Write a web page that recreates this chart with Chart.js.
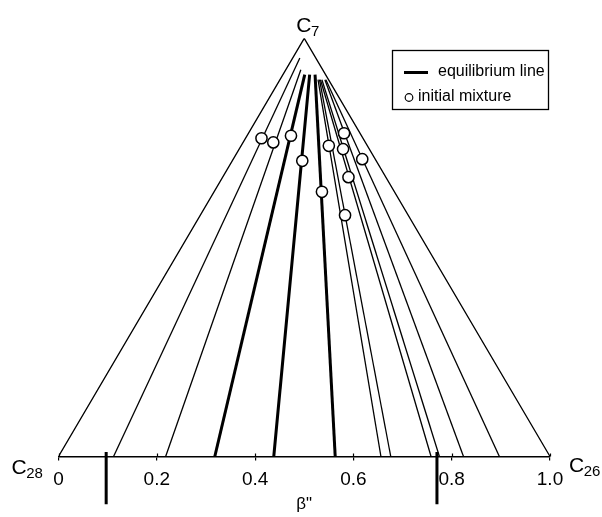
<!DOCTYPE html>
<html>
<head>
<meta charset="utf-8">
<script src="https://cdn.jsdelivr.net/npm/chart.js@4.4.1/dist/chart.umd.min.js"></script>
<style>
  body { margin: 0; background: #fff; }
  #wrap { width: 602px; height: 517px; }
</style>
</head>
<body>
<div id="wrap"><canvas id="chartTernary"></canvas></div>
<script>
// corners of the diagram (beta'', height)
const triangleX = [0, 0.5, 1]
const triangleY = [0, 1, 0]

// equilibrium lines (thick): beta'' at the base, and top end of each line
const equilibriumBase = [0.318, 0.438, 0.563]
const equilibriumTopX = [0.501, 0.511, 0.522]
const equilibriumTopY = [0.913, 0.913, 0.913]

// other tie lines (thin)
const tieBase = [0.112, 0.218, 0.656, 0.676, 0.758, 0.775, 0.824, 0.897]
const tieTopX = [0.491, 0.493, 0.528, 0.531, 0.533, 0.536, 0.542, 0.544]
const tieTopY = [0.953, 0.925, 0.901, 0.901, 0.901, 0.901, 0.901, 0.901]

// initial mixtures
const mixtureX = [0.413, 0.437, 0.473, 0.496, 0.536, 0.550, 0.583, 0.579, 0.590, 0.581, 0.618]
const mixtureY = [0.761, 0.751, 0.767, 0.707, 0.633, 0.743, 0.577, 0.735, 0.668, 0.773, 0.711]

// marks below the axis
const betaMarks = [0.097, 0.77]

const tickValues = [0, 0.2, 0.4, 0.6, 0.8, 1.0]

const FONT = "'Liberation Sans', Arial, Helvetica, sans-serif"

function segment(x0, y0, x1, y1) {
    return [{x: x0, y: y0}, {x: x1, y: y1}]
}

const datasets = []

datasets.push({
    label: 'initial mixture',
    data: mixtureX.map((x, i) => ({x, y: mixtureY[i]})),
    showLine: false,
    pointRadius: 5.6,
    pointBorderWidth: 1.5,
    pointBackgroundColor: '#fff',
    pointBorderColor: '#000',
    order: 0
})

equilibriumBase.forEach((b, i) => {
    datasets.push({
        label: 'equilibrium line',
        data: segment(b, 0, equilibriumTopX[i], equilibriumTopY[i]),
        showLine: true,
        borderColor: '#000',
        borderWidth: 3,
        pointRadius: 0,
        order: 1
    })
})

tieBase.forEach((b, i) => {
    datasets.push({
        label: 'tie',
        data: segment(b, 0, tieTopX[i], tieTopY[i]),
        showLine: true,
        borderColor: '#000',
        borderWidth: 1.3,
        pointRadius: 0,
        order: 1
    })
})

datasets.push({
    label: 'triangle',
    data: triangleX.map((x, i) => ({x, y: triangleY[i]})),
    showLine: true,
    borderColor: '#000',
    borderWidth: 1.3,
    pointRadius: 0,
    order: 1
})

betaMarks.forEach(b => {
    datasets.push({
        label: 'mark',
        data: segment(b, 0.011, b, -0.114),
        showLine: true,
        borderColor: '#000',
        borderWidth: 3,
        pointRadius: 0,
        clip: false,
        order: 1
    })
})

function drawSub(ctx, x, y, main, sub) {
    ctx.font = '21px ' + FONT
    ctx.fillText(main, x, y)
    const w = ctx.measureText(main).width
    ctx.font = '15px ' + FONT
    ctx.fillText(sub, x + w - 0.5, y + 4)
}

const labelsPlugin = {
    id: 'labels',
    afterDraw(chart) {
        const ctx = chart.ctx
        const xs = chart.scales.x
        const ys = chart.scales.y
        ctx.save()
        ctx.fillStyle = '#000'
        ctx.textBaseline = 'alphabetic'
        ctx.textAlign = 'left'

        // corner labels
        drawSub(ctx, xs.getPixelForValue(0.5) - 8, ys.getPixelForValue(1) - 6, 'C', '7')
        drawSub(ctx, xs.getPixelForValue(0) - 47, ys.getPixelForValue(0) + 17, 'C', '28')
        drawSub(ctx, xs.getPixelForValue(1) + 19, ys.getPixelForValue(0) + 15, 'C', '26')

        // little ticks poking above the axis line
        ctx.strokeStyle = '#000'
        ctx.lineWidth = 1.2
        tickValues.forEach(v => {
            const px = Math.round(xs.getPixelForValue(v)) + 0.5
            ctx.beginPath()
            ctx.moveTo(px, ys.getPixelForValue(0) - 3)
            ctx.lineTo(px, ys.getPixelForValue(0))
            ctx.stroke()
        })

        // legend box
        const lx = 392, ly = 50, lw = 156, lh = 59
        ctx.lineWidth = 1.3
        ctx.strokeRect(lx + 0.5, ly + 0.5, lw, lh)

        ctx.lineWidth = 3
        ctx.beginPath()
        ctx.moveTo(lx + 12, ly + 22.5)
        ctx.lineTo(lx + 36, ly + 22.5)
        ctx.stroke()

        ctx.lineWidth = 1.2
        ctx.fillStyle = '#fff'
        ctx.beginPath()
        ctx.arc(lx + 17, ly + 47.5, 3.8, 0, Math.PI * 2)
        ctx.fill()
        ctx.stroke()

        ctx.fillStyle = '#000'
        ctx.font = '16px ' + FONT
        ctx.textBaseline = 'middle'
        ctx.fillText('equilibrium line', lx + 46, ly + 22)
        ctx.fillText('initial mixture', lx + 26, ly + 47)
        ctx.restore()
    }
}

new Chart('chartTernary', {
    type: 'scatter',
    data: { datasets },
    options: {
        responsive: true,
        maintainAspectRatio: false,
        animation: false,
        layout: {
            padding: { left: 58.5, right: 52, top: 38.3, bottom: 0 }
        },
        plugins: {
            legend: { display: false },
            tooltip: { enabled: false }
        },
        scales: {
            x: {
                type: 'linear',
                position: 'bottom',
                min: 0,
                max: 1,
                afterBuildTicks: axis => { axis.ticks = tickValues.map(v => ({value: v})) },
                afterFit: axis => { axis.height = 60.5 },
                ticks: {
                    color: '#000',
                    font: { family: FONT, size: 19 },
                    padding: 8,
                    maxRotation: 0,
                    callback: v => v === 0 ? '0' : v.toFixed(1)
                },
                grid: {
                    display: true,
                    drawOnChartArea: false,
                    drawTicks: true,
                    tickLength: 4,
                    color: '#000',
                    lineWidth: 1.2
                },
                border: { display: true, color: '#000', width: 1.5 },
                title: {
                    display: true,
                    text: 'β"',
                    color: '#000',
                    font: { family: FONT, size: 17 },
                    padding: { top: 4, bottom: 2 }
                }
            },
            y: {
                type: 'linear',
                min: 0,
                max: 1,
                display: false
            }
        }
    },
    plugins: [labelsPlugin]
})
</script>
</body>
</html>
